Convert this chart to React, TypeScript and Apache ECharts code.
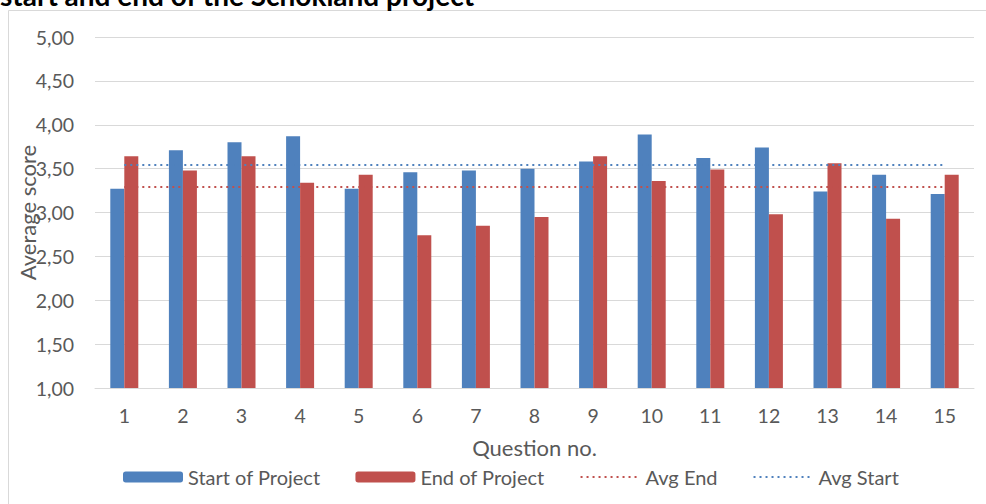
import React, { useEffect, useRef } from "react";
import * as echarts from "echarts";

const categories = ["1", "2", "3", "4", "5", "6", "7", "8", "9", "10", "11", "12", "13", "14", "15"];
const startValues = [3.27, 3.71, 3.8, 3.87, 3.27, 3.46, 3.48, 3.5, 3.58, 3.89, 3.62, 3.74, 3.24, 3.43, 3.21];
const endValues = [3.64, 3.48, 3.64, 3.34, 3.43, 2.74, 2.85, 2.95, 3.64, 3.36, 3.49, 2.98, 3.56, 2.93, 3.43];
const avgEnd = 3.29;
const avgStart = 3.54;
const seriesNames = ["Start of Project", "End of Project", "Avg End", "Avg Start"];
const titleText = "start and end of the Schokland project";

const BLUE = "#4F81BD";
const RED = "#C0504D";
const TEXT = "#595959";
const GRID = "#d9d9d9";
const FONT = "Lato, 'Open Sans', sans-serif";

export default function App() {
  const ref = useRef<HTMLDivElement>(null);
  useEffect(() => {
    document.body.style.margin = "0";
    if (!ref.current) return;
    const chart = echarts.init(ref.current, null, { renderer: "svg" });
    chart.setOption({
      animation: false,
      textStyle: { fontFamily: FONT },
      graphic: [
        {
          type: "rect",
          shape: { x: 8.5, y: 10.5, width: 990, height: 500 },
          style: { fill: "none", stroke: GRID, lineWidth: 1 },
          silent: true,
        },
        {
          type: "text",
          x: 0,
          y: -5,
          style: {
            text: titleText,
            font: `bold 28px ${FONT}`,
            fill: "#000",
            verticalAlign: "middle",
            align: "left",
          },
        },
      ],
      grid: {
        left: 95,
        right: 12,
        top: 37,
        bottom: 116,
        containLabel: false,
        outerBoundsMode: "none",
      },
      legend: {
        left: 118,
        top: 462,
        itemWidth: 60,
        itemHeight: 11,
        itemGap: 35,
        textStyle: { color: TEXT, fontSize: 20, fontFamily: FONT },
        data: [
          { name: seriesNames[0] },
          { name: seriesNames[1] },
          { name: seriesNames[2], itemStyle: { opacity: 0 } },
          { name: seriesNames[3], itemStyle: { opacity: 0 } },
        ],
      },
      xAxis: {
        type: "category",
        data: categories,
        boundaryGap: true,
        axisTick: { show: false },
        axisLine: { lineStyle: { color: GRID, width: 1 } },
        axisLabel: { color: TEXT, fontSize: 19.5, margin: 17 },
        name: "Question no.",
        nameLocation: "middle",
        nameGap: 48,
        nameMoveOverlap: false,
        nameTextStyle: { color: TEXT, fontSize: 22 },
      },
      yAxis: {
        type: "value",
        min: 1,
        max: 5,
        interval: 0.5,
        axisLine: { show: false },
        axisTick: { show: false },
        splitLine: { lineStyle: { color: GRID, width: 1 } },
        axisLabel: {
          color: TEXT,
          fontSize: 19.5,
          margin: 21,
          formatter: (v: number) => v.toFixed(2).replace(".", ","),
        },
        name: "Average score",
        nameLocation: "middle",
        nameGap: 57,
        nameMoveOverlap: false,
        nameTextStyle: { color: TEXT, fontSize: 22 },
      },
      series: [
        {
          name: seriesNames[0],
          type: "bar",
          data: startValues,
          barWidth: 14,
          barGap: "0%",
          itemStyle: { color: BLUE },
        },
        {
          name: seriesNames[1],
          type: "bar",
          data: endValues,
          barWidth: 14,
          barGap: "0%",
          itemStyle: { color: RED },
        },
        {
          name: seriesNames[2],
          type: "line",
          data: categories.map(() => avgEnd),
          symbol: "none",
          lineStyle: { color: RED, width: 2, type: [2, 4] },
          itemStyle: { color: RED },
        },
        {
          name: seriesNames[3],
          type: "line",
          data: categories.map(() => avgStart),
          symbol: "none",
          lineStyle: { color: BLUE, width: 2, type: [2, 4] },
          itemStyle: { color: BLUE },
        },
      ],
    });
    return () => chart.dispose();
  }, []);
  return <div ref={ref} style={{ width: 986, height: 504 }} />;
}
